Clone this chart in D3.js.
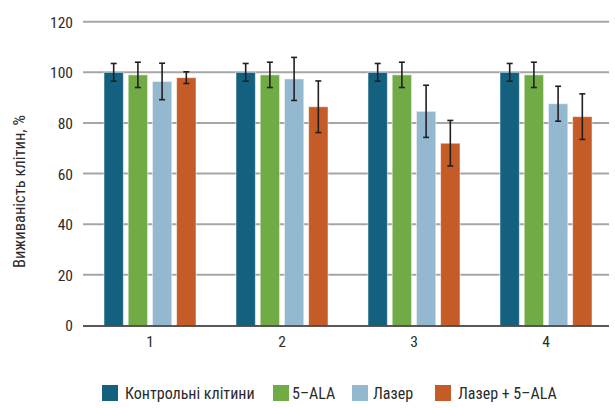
<!DOCTYPE html>
<html><head><meta charset="utf-8">
<script src="https://cdn.jsdelivr.net/npm/d3@7"></script>
<style>body{margin:0;background:#fff}svg{display:block}text{font-family:"Liberation Sans Narrow","Roboto Condensed","Liberation Sans",sans-serif;fill:#2b2b2b}</style>
</head><body><svg id="c" width="615" height="408"></svg>
<script>
const categories = ["1","2","3","4"];
const seriesNames = ["Контрольні клітини","5–ALA","Лазер","Лазер + 5–ALA"];
const seriesColors = ["#14607f","#70ab46","#95b8d1","#c55b26"];
const control = [100,100,100,100];
const ala = [99,99,99,99];
const laser = [96.4,97.4,84.6,87.6];
const laserAla = [97.9,86.4,72,82.5];
const controlErr = [3.5,3.5,3.5,3.5];
const alaErr = [5,5,5,5];
const laserErr = [7.2,8.5,10.3,6.9];
const laserAlaErr = [2.3,10.2,9,9];
const yTicks = [0,20,40,60,80,100,120];

(function(){
const values = [control, ala, laser, laserAla];
const errs = [controlErr, alaErr, laserErr, laserAlaErr];

const svg = d3.select("#c");
const mL = 83, mR = 609, mT = 21.7, mB = 325.5;
const x = d3.scaleBand().domain(categories).range([84,612]).paddingInner(0).paddingOuter(0);
const y = d3.scaleLinear().domain([0,120]).range([mB, mT]);
const xs = d3.scaleBand().domain(d3.range(4)).range([-46,46]).paddingInner(0.2);

svg.append("g").selectAll("line").data(yTicks.filter(d=>d>0)).join("line")
  .attr("x1",mL).attr("x2",mR).attr("y1",d=>y(d)).attr("y2",d=>y(d))
  .attr("stroke","#a6a6a6").attr("stroke-width",2);

const yAxis = d3.axisLeft(y).tickValues(yTicks).tickSize(0).tickPadding(0);
const ya = svg.append("g").attr("transform",`translate(${mL-10},0)`).call(yAxis);
ya.select(".domain").remove();
ya.selectAll("text").style("font-size","15.5px").attr("dy","0.35em")
  .style("font-family",'"Liberation Sans Narrow","Roboto Condensed",sans-serif').attr("fill","#2b2b2b");

const data = [];
categories.forEach((c,i)=>values.forEach((s,j)=>data.push({c,j,v:s[i],e:errs[j][i]})));
const cx = d => x(d.c) + x.bandwidth()/2 + xs(d.j);
svg.append("g").selectAll("rect").data(data).join("rect")
  .attr("x",cx).attr("width",xs.bandwidth())
  .attr("y",d=>y(d.v)).attr("height",d=>y(0)-y(d.v))
  .attr("fill",d=>seriesColors[d.j]).attr("stroke","#ffffff").attr("stroke-opacity",0.5).attr("stroke-width",1);

const eg = svg.append("g").attr("stroke","#231f20").attr("stroke-width",1.6);
data.forEach(d=>{
  const mx = cx(d) + xs.bandwidth()/2;
  eg.append("line").attr("x1",mx).attr("x2",mx).attr("y1",y(d.v+d.e)).attr("y2",y(d.v-d.e));
  eg.append("line").attr("x1",mx-3).attr("x2",mx+3).attr("y1",y(d.v+d.e)).attr("y2",y(d.v+d.e));
  eg.append("line").attr("x1",mx-3).attr("x2",mx+3).attr("y1",y(d.v-d.e)).attr("y2",y(d.v-d.e));
});

const xa = svg.append("g").attr("transform",`translate(0,${mB})`).call(d3.axisBottom(x).tickSize(0).tickPadding(10));
xa.select(".domain").attr("d",`M${mL},0.5H${mR}`).attr("stroke","#231f20").attr("stroke-width",1.6);
xa.selectAll("text").style("font-size","15.5px").attr("fill","#2b2b2b")
  .style("font-family",'"Liberation Sans Narrow","Roboto Condensed",sans-serif');

svg.append("text").attr("transform",`translate(25,${(mT+mB)/2+18}) rotate(-90)`)
  .attr("text-anchor","middle").style("font-size","16.5px").text("Виживаність клітин, %");

const legX = [102,273,352,435];
const lg = svg.append("g").selectAll("g").data(seriesNames).join("g")
  .attr("transform",(d,i)=>`translate(${legX[i]},385)`);
lg.append("rect").attr("width",16).attr("height",16).attr("fill",(d,i)=>seriesColors[i]);
lg.append("text").attr("x",(d,i)=>[23,19,21,23][i]).attr("y",8).attr("dy","0.35em")
  .style("font-size","16px").text(d=>d);
})();
</script></body></html>
